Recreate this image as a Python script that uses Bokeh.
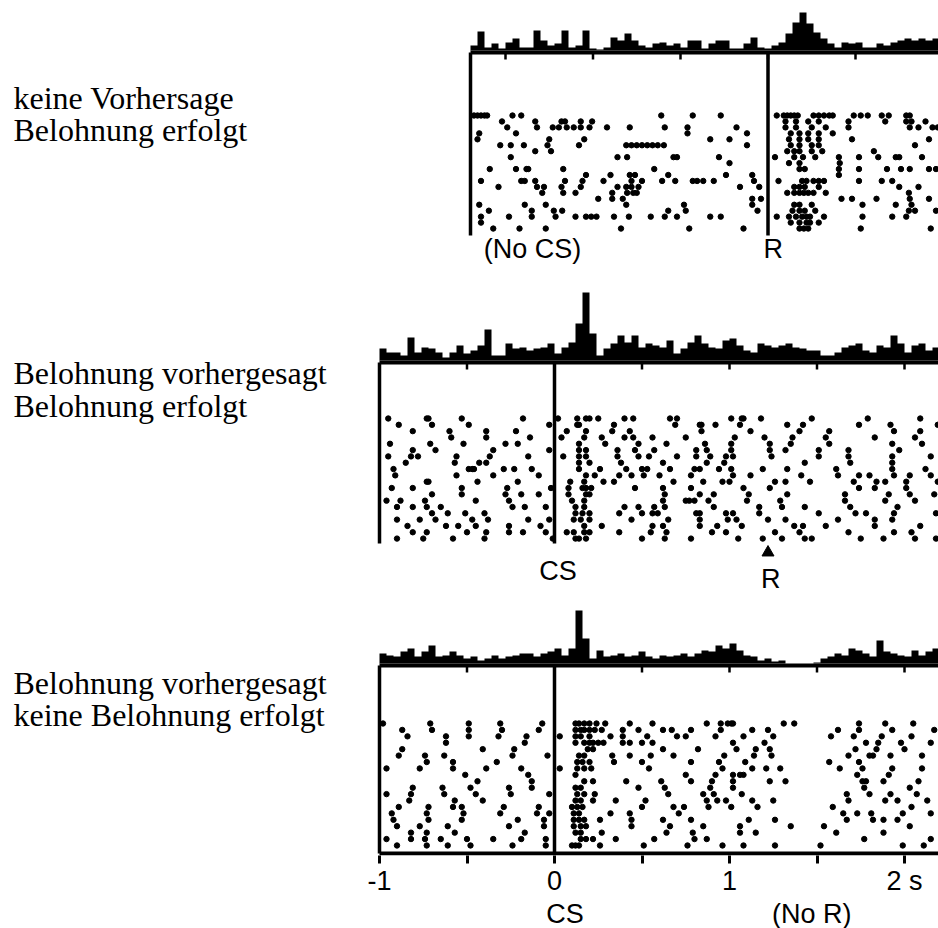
import numpy as np
from bokeh.plotting import figure
from bokeh.models import Range1d, LinearAxis, FixedTicker
from bokeh.core.properties import value
from bokeh.embed import file_html
from bokeh.resources import INLINE

# ---------------- data ----------------
condition_labels = [
    ["keine Vorhersage", "Belohnung erfolgt"],
    ["Belohnung vorhergesagt", "Belohnung erfolgt"],
    ["Belohnung vorhergesagt", "keine Belohnung erfolgt"],
]
event_labels = ["(No CS)", "R", "CS", "R"]
axis_ticks = [-1, -0.5, 0, 0.5, 1, 1.5, 2]
axis_tick_labels = {-1: "-1", -0.5: "", 0: "0", 0.5: "", 1: "1", 1.5: "", 2: "2 s"}
bottom_event_ticks = [0.06, 1.47]
bottom_event_labels = {0.06: "CS", 1.47: "(No R)"}

R_TIME = 1.22      # reward time (s after CS)
BIN_W = 0.04       # histogram bin width (s)

hist1_start = -0.48
hist1 = [5, 19, 3, 7, 2, 8, 12, 3, 3, 20, 10, 5, 7, 20, 3, 5, 20, 2, 1, 3,
         13, 10, 17, 10, 5, 3, 7, 8, 5, 7, 3, 10, 10, 2, 7, 10, 10, 2, 2, 7,
         13, 3, 2, 5, 8, 17, 28, 38, 27, 18, 12, 7, 3, 8, 7, 8, 3, 3, 7, 5,
         8, 10, 12, 10, 12, 10, 12]
hist23_start = -1.0
hist2 = [12, 8, 8, 5, 23, 8, 13, 12, 8, 3, 8, 15, 7, 10, 15, 31, 5, 5, 17, 12,
         13, 10, 12, 13, 17, 7, 13, 18, 37, 68, 27, 5, 12, 17, 25, 18, 25, 13, 17, 15,
         13, 20, 7, 12, 18, 25, 17, 13, 12, 20, 22, 15, 10, 8, 17, 15, 13, 15, 17, 13,
         12, 10, 10, 5, 5, 8, 13, 15, 17, 10, 8, 15, 13, 25, 17, 8, 15, 17, 10, 13]
hist3 = [10, 8, 7, 12, 15, 7, 12, 18, 7, 8, 12, 8, 5, 7, 3, 5, 8, 5, 7, 8,
         10, 10, 7, 10, 12, 15, 8, 15, 53, 25, 5, 13, 7, 8, 10, 7, 8, 12, 7, 5,
         8, 7, 8, 10, 7, 10, 13, 12, 18, 15, 20, 13, 8, 7, 3, 5, 2, 3, 0, 0,
         0, 0, 1, 5, 7, 10, 8, 15, 13, 10, 7, 23, 12, 10, 8, 7, 13, 8, 12, 15]

p1_trials = [
    [-0.46, -0.44, -0.42, -0.40, -0.385, -0.24, -0.19, 0.61, 0.79, 0.95, 1.27, 1.31, 1.33, 1.35, 1.37, 1.39, 1.48, 1.51, 1.54, 1.57, 1.59, 1.71, 1.75, 1.79, 1.87, 1.91, 2.01, 2.03],
    [-0.30, -0.11, 0.04, 0.06, 0.15, 0.215, 1.32, 1.38, 1.45, 1.51, 1.68, 1.89, 2.01, 2.04, 2.12],
    [-0.27, -0.10, -0.01, 0.025, 0.07, 0.11, 0.15, 0.20, 0.30, 0.43, 0.63, 0.76, 1.04, 1.32, 1.38, 1.47, 1.55, 1.68, 2.03, 2.08, 2.16, 2.19],
    [-0.43, -0.22, 0.76, 1.10, 1.35, 1.40, 1.45, 1.51, 1.59],
    [-0.44, -0.03, 0.17, 0.89, 1.00, 1.34, 1.40, 1.45, 1.51, 1.70, 2.14],
    [-0.31, -0.25, -0.175, -0.04, 0.14, 0.41, 0.44, 0.47, 0.50, 0.53, 0.56, 0.59, 0.625, 1.10, 1.35, 1.40, 1.47, 1.51, 2.06],
    [-0.11, -0.02, 1.33, 1.37, 1.40, 1.47, 1.53, 1.825],
    [-0.25, 0.36, 0.415, 0.68, 0.70, 0.94, 1.26, 1.37, 1.42, 1.49, 1.625, 1.74, 1.85, 1.95, 1.97, 2.10],
    [1.00, 1.34, 1.40, 1.63],
    [-0.37, -0.22, -0.16, -0.15, 0.05, 0.57, 1.40, 1.43, 1.625, 1.74, 1.90, 1.98, 2.03, 2.14, 2.18],
    [0.18, 0.32, 0.43, 0.46, 0.65, 0.98, 1.13, 1.625],
    [-0.42, -0.19, -0.17, -0.11, 0.06, 0.16, 0.28, 0.44, 0.50, 0.615, 0.69, 0.79, 0.815, 0.85, 0.91, 1.14, 1.28, 1.415, 1.44, 1.48, 1.51, 1.54, 1.74, 1.87, 1.93],
    [-0.32, -0.10, -0.06, 0.04, 0.15, 0.36, 0.41, 0.44, 0.48, 1.06, 1.17, 1.37, 1.40, 1.43, 1.51, 1.97, 2.08],
    [-0.07, 0.05, 0.12, 0.33, 0.415, 0.45, 0.47, 1.33, 1.37, 1.40, 1.425, 1.45, 1.48, 1.55, 2.025],
    [0.25, 0.33, 0.39, 1.13, 1.18, 1.64, 1.70, 1.84, 2.03, 2.14],
    [-0.43, -0.17, -0.05, 0.41, 0.74, 1.13, 1.37, 1.40, 1.47, 1.76, 1.95, 2.04],
    [-0.375, -0.13, -0.004, 0.044, 0.65, 0.75, 1.16, 1.36, 1.40, 1.43, 1.49, 2.025, 2.06, 2.18],
    [-0.42, -0.26, -0.13, 0.006, 0.12, 0.18, 0.21, 0.24, 0.34, 0.425, 0.55, 0.63, 0.70, 0.89, 0.95, 1.27, 1.34, 1.38, 1.415, 1.44, 1.46, 1.54, 1.76, 1.93, 2.01],
    [-0.42, 1.35, 1.40, 1.44, 1.46, 1.51],
    [-0.35, -0.20, -0.05, 0.38, 0.77, 1.08, 1.40, 1.425, 1.45, 1.75, 2.15],
]

p2_trials = [
    [-0.95, -0.73, -0.72, -0.53, -0.18, 0.02, 0.13, 0.18, 0.20, 0.25, 0.40, 0.45, 0.66, 0.70, 1.01, 1.07, 1.08, 1.18, 1.47, 1.79, 2.09],
    [-0.89, -0.70, -0.49, -0.03, 0.13, 0.14, 0.34, 0.69, 0.83, 0.84, 0.92, 1.06, 1.33, 1.42, 1.74, 1.92, 2.19],
    [-0.81, -0.60, -0.39, -0.22, 0.07, 0.18, 0.33, 0.43, 0.84, 1.12, 1.40, 1.57, 1.94, 2.09],
    [-0.59, -0.39, -0.14, 0.04, 0.17, 0.27, 0.40, 0.45, 0.56, 0.75, 1.03, 1.20, 1.36, 1.55, 1.83, 2.06],
    [-0.94, -0.71, -0.52, -0.28, -0.21, 0.14, 0.29, 0.48, 0.64, 0.86, 1.01, 1.23, 1.35, 1.57, 1.93, 2.10],
    [-0.81, -0.68, -0.35, -0.03, 0.14, 0.18, 0.36, 0.46, 0.57, 0.81, 0.87, 1.01, 1.23, 1.32, 1.51, 1.68, 1.97],
    [-0.95, -0.82, -0.78, -0.56, -0.37, -0.15, 0.05, 0.14, 0.18, 0.36, 0.48, 0.54, 0.70, 0.81, 0.89, 0.98, 1.02, 1.24, 1.51, 1.68, 1.93, 2.15],
    [-0.85, -0.57, -0.43, -0.39, 0.14, 0.20, 0.38, 0.62, 0.87, 0.97, 1.43, 1.69, 1.93],
    [-0.92, -0.49, -0.47, -0.46, -0.29, -0.23, -0.13, 0.14, 0.26, 0.41, 0.50, 0.53, 0.66, 0.80, 0.83, 0.94, 1.01, 1.19, 1.33, 1.61, 1.93, 2.12],
    [-0.91, -0.56, -0.35, -0.09, 0.18, 0.23, 0.37, 0.44, 0.51, 0.60, 0.78, 1.02, 1.12, 1.41, 1.62, 1.74, 1.80, 1.94, 2.03, 2.15],
    [-0.73, -0.72, -0.44, -0.21, 0.09, 0.17, 0.28, 0.34, 0.68, 0.85, 0.96, 1.00, 1.26, 1.32, 1.46, 1.71, 1.84, 1.89, 2.01, 2.19],
    [-0.93, -0.81, -0.53, -0.27, -0.02, 0.08, 0.16, 0.18, 0.21, 0.46, 0.62, 0.78, 1.08, 1.23, 1.74, 1.83, 2.01],
    [-0.70, -0.53, -0.28, -0.19, -0.09, 0.08, 0.18, 0.20, 0.63, 0.83, 0.91, 1.11, 1.33, 1.66, 1.91, 2.03, 2.17],
    [-0.96, -0.88, -0.74, -0.45, -0.26, 0.10, 0.17, 0.62, 0.75, 0.77, 0.80, 0.88, 1.10, 1.29, 1.66, 1.89, 2.06],
    [-0.90, -0.81, -0.73, -0.65, -0.24, -0.17, -0.05, 0.12, 0.17, 0.40, 0.48, 0.57, 0.63, 0.91, 1.17, 1.30, 1.43, 1.69, 1.96],
    [-0.70, -0.61, -0.51, -0.40, 0.12, 0.16, 0.20, 0.37, 0.50, 0.56, 0.59, 0.81, 0.83, 0.98, 1.02, 1.17, 1.51, 1.72, 1.78, 1.94, 2.18],
    [-0.90, -0.77, -0.68, -0.47, -0.38, -0.15, -0.03, 0.11, 0.15, 0.20, 0.44, 0.65, 0.83, 0.99, 1.04, 1.22, 1.32, 1.62, 1.83, 1.93],
    [-0.84, -0.62, -0.55, -0.45, -0.26, -0.08, 0.17, 0.27, 0.56, 0.62, 0.83, 0.93, 1.07, 1.37, 1.42, 1.55, 1.83, 2.09],
    [-0.81, -0.73, -0.50, -0.39, -0.26, -0.18, -0.05, 0.07, 0.11, 0.17, 0.20, 0.37, 0.55, 0.64, 0.90, 0.98, 1.26, 1.40, 1.68, 1.94, 2.04],
    [-0.90, -0.75, -0.58, -0.40, -0.01, 0.12, 0.14, 0.18, 0.50, 0.63, 0.78, 1.05, 1.19, 1.30, 1.43, 1.47, 1.75, 1.88, 2.06, 2.18],
]

p3_trials = [
    [-0.98, -0.71, -0.49, -0.31, -0.07, 0.12, 0.14, 0.17, 0.20, 0.24, 0.29, 0.43, 0.56, 0.87, 0.95, 0.99, 1.01, 1.02, 1.31, 1.37, 1.74, 1.89, 2.05],
    [-0.87, -0.70, -0.49, -0.30, -0.09, 0.12, 0.15, 0.17, 0.20, 0.23, 0.27, 0.39, 0.48, 0.62, 0.67, 0.78, 0.95, 1.13, 1.22, 1.62, 1.74, 1.93, 2.17],
    [-0.84, -0.62, -0.49, -0.32, -0.16, 0.03, 0.12, 0.15, 0.20, 0.32, 0.39, 0.53, 0.70, 0.75, 0.92, 1.08, 1.25, 1.58, 1.71, 1.87, 2.04],
    [-0.62, -0.17, 0.12, 0.17, 0.20, 0.22, 0.25, 0.28, 0.39, 0.43, 0.50, 0.56, 1.02, 1.20, 1.78, 1.85, 1.98, 2.15],
    [-0.87, -0.41, -0.23, 0.19, 0.22, 0.62, 0.82, 1.04, 1.15, 1.23, 1.72, 1.84, 2.00],
    [-0.89, -0.74, -0.63, -0.24, -0.04, 0.14, 0.17, 0.33, 0.43, 0.55, 0.68, 0.97, 1.14, 1.24, 1.68, 1.80, 1.82, 1.92, 2.10],
    [-0.73, -0.58, -0.33, 0.13, 0.16, 0.20, 0.34, 0.50, 0.78, 0.94, 1.09, 1.57, 1.74],
    [-0.96, -0.77, -0.58, -0.39, -0.19, 0.03, 0.13, 0.17, 0.21, 0.54, 0.96, 1.13, 1.21, 1.29, 1.63, 1.76, 1.93, 2.10],
    [-0.51, -0.15, 0.12, 0.75, 0.92, 1.02, 1.06, 1.08, 1.73, 1.91],
    [-0.44, -0.13, 0.17, 0.22, 0.41, 0.61, 0.78, 0.90, 1.02, 1.23, 1.32, 1.76, 1.78, 1.88, 2.08],
    [-0.81, -0.64, -0.48, -0.26, -0.13, 0.12, 0.15, 0.48, 0.63, 0.89, 1.02, 1.77, 2.03],
    [-0.96, -0.82, -0.63, -0.45, -0.25, -0.03, 0.13, 0.17, 0.23, 0.65, 0.85, 0.91, 1.07, 1.67, 1.80, 1.92, 2.07],
    [-0.83, -0.57, -0.41, 0.12, 0.15, 0.22, 0.35, 0.52, 0.87, 0.93, 0.98, 1.13, 1.25, 1.68, 1.89, 1.96, 2.13],
    [-0.89, -0.72, -0.58, -0.53, -0.29, -0.09, 0.10, 0.13, 0.16, 0.50, 0.68, 0.74, 0.88, 1.01, 1.16, 1.59, 2.04],
    [-0.93, -0.73, -0.52, -0.31, -0.10, -0.03, 0.11, 0.14, 0.32, 0.43, 0.71, 1.65, 1.73, 1.81, 1.99, 2.15],
    [-0.92, -0.72, -0.53, -0.21, -0.06, 0.11, 0.14, 0.17, 0.26, 0.44, 0.62, 0.78, 1.11, 1.26, 1.67, 1.82, 1.88, 1.96],
    [-0.90, -0.77, -0.61, -0.26, -0.06, 0.11, 0.15, 0.18, 0.44, 0.66, 0.85, 1.06, 1.35, 1.54, 2.03],
    [-0.82, -0.73, -0.57, -0.17, 0.12, 0.15, 0.27, 0.64, 0.79, 1.06, 1.15, 1.61, 1.88],
    [-0.96, -0.82, -0.74, -0.65, -0.50, -0.35, -0.19, -0.05, 0.15, 0.18, 0.22, 0.35, 0.57, 0.80, 0.87, 1.77, 2.15],
    [-0.90, -0.73, -0.61, -0.48, -0.24, -0.05, 0.10, 0.12, 0.14, 0.26, 0.51, 0.76, 0.96, 1.08, 1.26, 1.52, 1.99, 2.11],
]

# ---------------- layout / style ----------------
FRAME_W, FRAME_H = 938, 855
PX_PER_S = 175.0
T0_PX = 554.0
X_START = -T0_PX / PX_PER_S
X_END = (FRAME_W - T0_PX) / PX_PER_S
BASE_W = 4
SANS = value("Liberation Sans")
SERIF = value("Liberation Serif")

p = figure(frame_width=FRAME_W, frame_height=FRAME_H,
           x_range=Range1d(X_START, X_END), y_range=Range1d(FRAME_H, 0),
           x_axis_location=None, y_axis_location=None,
           output_backend="svg", toolbar_location=None, min_border=0)
p.outline_line_color = None
p.background_fill_color = "white"
p.border_fill_color = "white"
p.grid.visible = False
p.xgrid.grid_line_color = None
p.ygrid.grid_line_color = None

panels = [
    dict(key="1", trials=p1_trials, hist=hist1, hstart=hist1_start, left=hist1_start,
         event=R_TIME, base=52, y0=115, dy=5.95, bottom=235,
         hticks=[R_TIME + k * 0.5 for k in (-3, -2, -1, 0, 1)]),
    dict(key="2", trials=p2_trials, hist=hist2, hstart=hist23_start, left=hist23_start,
         event=0.0, base=362, y0=418, dy=6.32, bottom=543,
         hticks=[-0.5, 0, 0.5, 1, 1.5, 2]),
    dict(key="3", trials=p3_trials, hist=hist3, hstart=hist23_start, left=hist23_start,
         event=0.0, base=665, y0=723, dy=6.42, bottom=853,
         hticks=[-0.5, 0, 0.5, 1, 1.5, 2]),
]

extra = {}
for pn in panels:
    hz = pn["base"] - BASE_W / 2
    extra["h" + pn["key"]] = Range1d(hz - FRAME_H, hz)
    extra["r" + pn["key"]] = Range1d(1 + (FRAME_H - pn["y0"]) / pn["dy"], 1 - pn["y0"] / pn["dy"])
p.extra_y_ranges = extra

for pn in panels:
    hname, rname = "h" + pn["key"], "r" + pn["key"]
    h = list(pn["hist"])
    edges = pn["hstart"] + BIN_W * np.arange(len(h) + 1)
    p.varea_step(x=edges, y1=np.zeros(len(edges)), y2=h + [h[-1]], step_mode="after",
                 fill_color="black", y_range_name=hname)
    # histogram baseline and its small ticks
    p.segment(x0=[pn["left"]], y0=[-BASE_W / 2], x1=[X_END + 0.05], y1=[-BASE_W / 2],
              line_width=BASE_W, color="black", y_range_name=hname)
    p.segment(x0=pn["hticks"], y0=[-BASE_W / 2] * len(pn["hticks"]),
              x1=pn["hticks"], y1=[-BASE_W / 2 - 7] * len(pn["hticks"]),
              line_width=2.5, color="black", y_range_name=hname)
    # vertical lines: panel start and aligning event
    p.segment(x0=[pn["left"], pn["event"]], y0=[pn["base"]] * 2,
              x1=[pn["left"], pn["event"]], y1=[pn["bottom"]] * 2,
              line_width=3.5, color="black")
    # raster
    xs, ys = [], []
    for i, row in enumerate(pn["trials"]):
        xs.extend(row)
        ys.extend([i + 1] * len(row))
    p.scatter(x=xs, y=ys, marker="circle", size=5.4, color="black", y_range_name=rname)

# bottom axis line of last panel
p.segment(x0=[hist23_start], y0=[853], x1=[X_END + 0.05], y1=[853], line_width=4, color="black")

# reward marker in panel 2
p.scatter(x=[R_TIME], y=[552], marker="triangle", size=12, color="black")

# condition labels on the left
lx, ly, lt = [], [], []
label_rows = [(97, 129), (372, 405), (682, 714)]
for lines, ys_ in zip(condition_labels, label_rows):
    for txt, yy in zip(lines, ys_):
        lx.append(X_START + 13 / PX_PER_S)
        ly.append(yy)
        lt.append(txt)
p.text(x=lx, y=ly, text=lt, text_font=SERIF, text_font_size="32px",
       text_align="left", text_baseline="middle", text_color="black")

# event labels
p.text(x=[-0.126, 1.25, 0.02, 1.235], y=[248, 248, 570, 578], text=event_labels,
       text_font=SANS, text_font_size="27px", text_align="center",
       text_baseline="middle", text_color="black")

# time axis
ax = LinearAxis(ticker=FixedTicker(ticks=axis_ticks), major_label_overrides=axis_tick_labels)
ax.axis_line_color = None
ax.major_tick_in = 0
ax.major_tick_out = 8
ax.major_tick_line_width = 3
ax.minor_tick_line_color = None
ax.major_label_standoff = 2
ax.major_label_text_font = "Liberation Sans"
ax.major_label_text_font_size = "27px"
ax.major_label_text_color = "black"
p.add_layout(ax, "below")

ax2 = LinearAxis(ticker=FixedTicker(ticks=bottom_event_ticks), major_label_overrides=bottom_event_labels)
ax2.axis_line_color = None
ax2.major_tick_line_color = None
ax2.major_tick_in = 0
ax2.major_tick_out = 0
ax2.minor_tick_line_color = None
ax2.major_label_standoff = 0
ax2.major_label_text_font = "Liberation Sans"
ax2.major_label_text_font_size = "27px"
ax2.major_label_text_color = "black"
p.add_layout(ax2, "below")

open("out.html", "w").write(file_html(p, INLINE))
